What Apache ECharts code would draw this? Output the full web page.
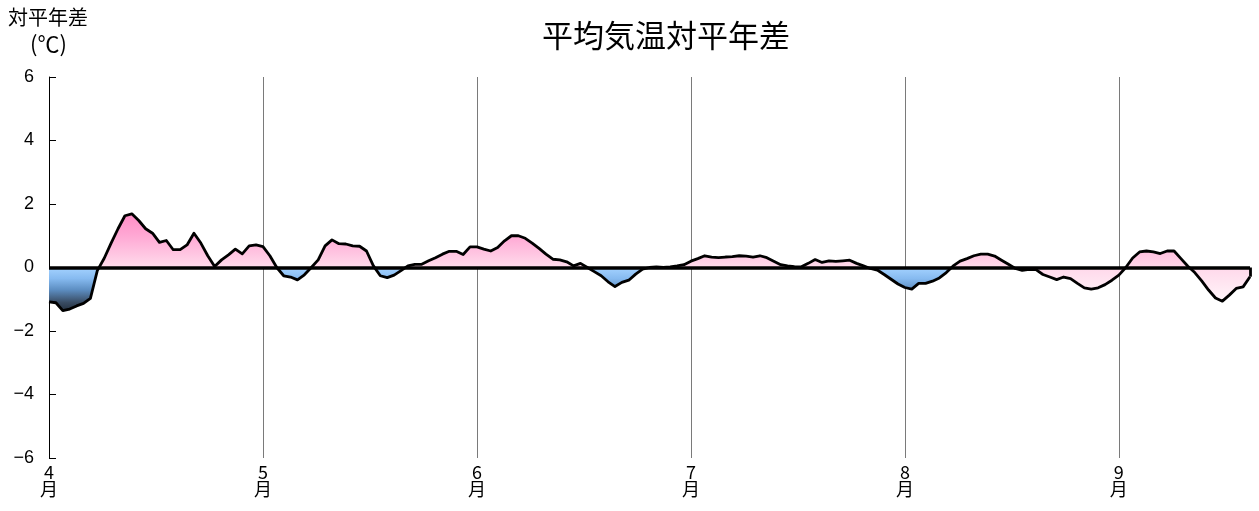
<!DOCTYPE html>
<html>
<head>
<meta charset="utf-8">
<script src="https://cdn.jsdelivr.net/npm/echarts@6/dist/echarts.min.js"></script>
<style>
html,body{margin:0;padding:0;background:#fff;}
#c{width:1259px;height:511px;}
</style>
</head>
<body>
<div id="c"></div>
<script>
// ---- data ----
const titleText = '平均気温対平年差';
const yNameTop = '対平年差';
const yNameUnit = '(℃)';
const monthLabels = ['4', '5', '6', '7', '8', '9'];
const slotsPerMonth = 31;
// daily anomaly (℃), from 4/1
const values = [
  -1.08, -1.11, -1.36, -1.31, -1.21, -1.13, -0.97, -0.10, 0.29, 0.77,
  1.22, 1.63, 1.69, 1.48, 1.22, 1.08, 0.79, 0.85, 0.56, 0.56,
  0.71, 1.08, 0.77, 0.37, 0.03, 0.24, 0.40, 0.58, 0.43, 0.68,
  0.71, 0.66, 0.37, 0.00, -0.26, -0.30, -0.39, -0.23, 0.00, 0.24,
  0.68, 0.87, 0.75, 0.74, 0.68, 0.67, 0.52, 0.05, -0.26, -0.32,
  -0.24, -0.10, 0.05, 0.10, 0.10, 0.21, 0.31, 0.42, 0.51, 0.51,
  0.41, 0.65, 0.65, 0.58, 0.52, 0.63, 0.84, 1.00, 1.00, 0.92,
  0.77, 0.60, 0.42, 0.26, 0.24, 0.18, 0.05, 0.13, 0.00, -0.13,
  -0.26, -0.45, -0.60, -0.47, -0.40, -0.21, -0.05, 0.00, 0.02, 0.00,
  0.02, 0.05, 0.09, 0.20, 0.28, 0.37, 0.33, 0.31, 0.33, 0.34,
  0.37, 0.36, 0.33, 0.37, 0.31, 0.20, 0.09, 0.05, 0.03, 0.02,
  0.13, 0.25, 0.16, 0.21, 0.19, 0.21, 0.23, 0.13, 0.05, -0.03,
  -0.08, -0.22, -0.37, -0.52, -0.63, -0.68, -0.50, -0.50, -0.43, -0.33,
  -0.16, 0.05, 0.20, 0.28, 0.37, 0.42, 0.42, 0.36, 0.23, 0.10,
  -0.03, -0.09, -0.06, -0.07, -0.22, -0.30, -0.38, -0.30, -0.35, -0.50,
  -0.64, -0.68, -0.64, -0.54, -0.40, -0.24, 0.00, 0.30, 0.49, 0.52,
  0.49, 0.44, 0.52, 0.52, 0.28, 0.04, -0.16, -0.42, -0.71, -0.96,
  -1.06, -0.87, -0.66, -0.61, -0.29
];
// index where the later (pink-shaded) period begins
const splitIndex = 139;
const yTicks = { min: -6, max: 6, step: 2 };

const categories = values.map((v, i) =>
  (4 + Math.floor(i / slotsPerMonth)) + '/' + (i % slotsPerMonth + 1));
const lastIdx = values.length - 1;

const dataA = values.map((v, i) => i <= splitIndex ? v : '-');
const dataB = values.map((v, i) => i >= splitIndex ? v : '-');

const numFont = '"Liberation Sans", Arial, "Noto Sans CJK JP", sans-serif';
const jpFont = '"Noto Sans CJK JP", sans-serif';

const chart = echarts.init(document.getElementById('c'), null, { renderer: 'canvas' });

const option = {
  backgroundColor: '#ffffff',
  animation: false,
  title: {
    text: titleText,
    left: 661,
    top: 15,
    textAlign: 'center',
    textStyle: { fontFamily: jpFont, fontSize: 31, fontWeight: 'normal', color: '#000' }
  },
  graphic: [
    { type: 'text', left: 8, top: 7,
      style: { text: yNameTop, font: '20px ' + jpFont, fill: '#000' } },
    { type: 'text', left: 30, top: 33,
      style: { text: yNameUnit, font: '22px ' + jpFont, fill: '#000' } }
  ],
  grid: { left: 49, right: 9, top: 77, bottom: 53, containLabel: false },
  xAxis: {
    type: 'category',
    data: categories,
    boundaryGap: false,
    axisLine: { show: false },
    axisTick: { show: false },
    axisLabel: {
      interval: function (idx) { return idx % slotsPerMonth === 0; },
      formatter: function (val, idx) {
        return monthLabels[idx / slotsPerMonth] + '\n月';
      },
      fontFamily: jpFont,
      fontSize: 18,
      lineHeight: 17,
      color: '#000',
      margin: 6
    },
    splitLine: {
      show: true,
      interval: function (idx) { return idx % slotsPerMonth === 0 && idx > 0; },
      lineStyle: { color: '#7a7a7a', width: 1 }
    }
  },
  yAxis: {
    type: 'value',
    min: yTicks.min,
    max: yTicks.max,
    interval: yTicks.step,
    axisLine: { show: true, onZero: false, lineStyle: { color: '#000', width: 1 } },
    axisTick: { show: true, inside: true, length: 7, lineStyle: { color: '#000' } },
    splitLine: { show: false },
    axisLabel: {
      formatter: function (v) { return String(v).replace('-', '\u2212'); },
      fontFamily: numFont,
      fontSize: 18,
      color: '#000',
      margin: 15
    }
  },
  series: [
    {
      name: 'areaA', type: 'line', data: dataA, symbol: 'none', z: 2,
      lineStyle: { width: 0, opacity: 0 },
      areaStyle: { origin: 0, opacity: 1 },
      markLine: {
        silent: true, symbol: ['none', 'none'], label: { show: false },
        lineStyle: { type: 'solid', color: '#000', width: 3.5 },
        data: [{ yAxis: 0 }]
      }
    },
    {
      name: 'areaB', type: 'line', data: dataB, symbol: 'none', z: 2,
      lineStyle: { width: 0, opacity: 0 },
      areaStyle: { origin: 0, opacity: 1 }
    },
    {
      name: 'line', type: 'line', data: values, symbol: 'none', z: 4,
      lineStyle: { color: '#000', width: 2.8, join: 'round' },
      markLine: {
        silent: true, symbol: ['none', 'none'], label: { show: false },
        lineStyle: { type: 'solid', color: '#000', width: 2.8 },
        data: [[{ coord: [categories[lastIdx], values[lastIdx]] },
                { coord: [categories[lastIdx], 0] }]]
      }
    }
  ]
};
chart.setOption(option);

// gradients in pixel space derived from the y scale
function py(v) { return chart.convertToPixel({ yAxisIndex: 0 }, v); }
const gTop = 1.8, gBot = -1.45;
const gy1 = py(gTop), gy2 = py(gBot);
const f = v => (gTop - v) / (gTop - gBot);
const gradA = {
  type: 'linear', x: 0, y: gy1, x2: 0, y2: gy2, global: true,
  colorStops: [
    { offset: 0, color: '#ff88c4' },
    { offset: f(1.0), color: '#ffa8d4' },
    { offset: f(0) - 0.0005, color: '#ffdcec' },
    { offset: f(0) + 0.0005, color: '#a4d2ff' },
    { offset: f(-0.35), color: '#86baf0' },
    { offset: f(-0.7), color: '#5d8ec2' },
    { offset: f(-1.1), color: '#394c63' },
    { offset: 1, color: '#1c2632' }
  ]
};
const gradB = {
  type: 'linear', x: 0, y: gy1, x2: 0, y2: gy2, global: true,
  colorStops: [
    { offset: 0, color: '#ff88c4' },
    { offset: f(1.0), color: '#ffa8d4' },
    { offset: f(0), color: '#ffd8ea' },
    { offset: f(-1.1), color: '#fff6fa' },
    { offset: 1, color: '#ffffff' }
  ]
};
chart.setOption({
  series: [
    { name: 'areaA', areaStyle: { color: gradA } },
    { name: 'areaB', areaStyle: { color: gradB } }
  ]
});
</script>
</body>
</html>
